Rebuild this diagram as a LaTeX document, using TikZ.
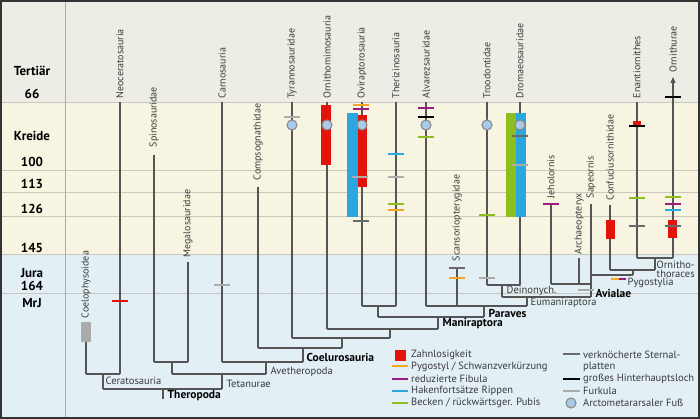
\documentclass[tikz,border=0pt]{standalone}
\usepackage{fontspec}
\setmainfont{PT Sans}
\usetikzlibrary{arrows.meta}
\definecolor{cTer}{HTML}{EDEDE6}
\definecolor{cKre}{HTML}{F7F5E2}
\definecolor{cJur}{HTML}{E2F0F5}
\definecolor{cGrid}{HTML}{C9C7C0}
\definecolor{cTree}{HTML}{555555}
\definecolor{cTxt}{HTML}{3A3A3A}
\definecolor{cRed}{HTML}{E3120B}
\definecolor{cOra}{HTML}{F6A623}
\definecolor{cPur}{HTML}{9B1C7E}
\definecolor{cBlu}{HTML}{2AA7E0}
\definecolor{cGre}{HTML}{8CBE1F}
\definecolor{cDgr}{HTML}{6A6A6A}
\definecolor{cLgr}{HTML}{ABABAB}
\definecolor{cCir}{HTML}{A9CBE8}
\definecolor{cCirL}{HTML}{8A8A8A}
\definecolor{cFrame}{HTML}{333333}
\begin{document}
\begin{tikzpicture}[x=1pt,y=-1pt,
  tree/.style={draw=cTree,line width=1.1pt},
  taxon/.style={rotate=90,anchor=west,inner sep=1.5pt,text=cTxt,font=\fontsize{10}{11}\selectfont},
  clade/.style={anchor=west,inner sep=0.5pt,text=cTxt,font=\fontsize{10.5}{11}\selectfont},
  cladeb/.style={anchor=west,inner sep=0.5pt,text=black,font=\bfseries\fontsize{11.5}{13}\selectfont},
  timel/.style={inner sep=0pt,text=black,font=\bfseries\fontsize{13}{14}\selectfont},
  mk/.style={line width=2.6pt},
  arcto/.style={circle,fill=cCir,draw=cCirL,line width=1.1pt,minimum size=10pt,inner sep=0pt},
  legt/.style={anchor=west,inner sep=0pt,text=cTxt,font=\fontsize{10.5}{12}\selectfont}]
\newcommand\tk[3]{\draw[mk,#1] (#2-8,#3) -- (#2+8,#3);}
\newcommand\bracket[3]{\draw[tree] (#1) -- (#2); \draw[tree] (#1 -| #3) -- (#3);}
\useasboundingbox (0,0) rectangle (700,419);
% backgrounds
\fill[cTer] (0,0) rectangle (700,102);
\fill[cKre] (0,102) rectangle (700,254);
\fill[cJur] (0,254) rectangle (700,419);
\foreach \yy in {102,170,192,216,254,293} \draw[cGrid,line width=0.9pt] (0,\yy) -- (700,\yy);
\draw[cLgr,line width=0.9pt] (65,0) -- (65,419);
% time labels
\node[timel] (tTer) at (32,71) {Tertiär};
\node[timel] (t66) at (32,94) {66};
\node[timel] (tKre) at (32,136) {Kreide};
\node[timel] (t100) at (32,162) {100};
\node[timel] (t113) at (32,184) {113};
\node[timel] (t126) at (32,209) {126};
\node[timel] (t145) at (32,248) {145};
\node[timel] (tJur) at (32,273) {Jura};
\node[timel] (t164) at (32,286) {164};
\node[timel] (tMrJ) at (32,303) {MrJ};
% taxon coordinates
\coordinate (coeT) at (86,342); \coordinate (coeB) at (86,374);
\coordinate (neoT) at (120,102); \coordinate (neoB) at (120,374);
\coordinate (spiT) at (154,155); \coordinate (spiB) at (154,362);
\coordinate (megT) at (188,262); \coordinate (megB) at (188,362);
\coordinate (carT) at (222,102); \coordinate (carB) at (222,362);
\coordinate (comT) at (258,187); \coordinate (comB) at (258,348);
\coordinate (tyrT) at (292,102); \coordinate (tyrB) at (292,338);
\coordinate (ornT) at (327,102); \coordinate (ornB) at (327,329);
\coordinate (oviT) at (362,102); \coordinate (oviB) at (362,306);
\coordinate (theT) at (396,102); \coordinate (theB) at (396,306);
\coordinate (alvT) at (426,102); \coordinate (alvB) at (426,306);
\coordinate (scaT) at (457,268); \coordinate (scaB) at (457,306);
\coordinate (troT) at (487,102); \coordinate (troB) at (487,285);
\coordinate (droT) at (520,102); \coordinate (droB) at (520,285);
\coordinate (jehT) at (551,204); \coordinate (jehB) at (551,284);
\coordinate (arcT) at (579,258); \coordinate (arcB) at (579,284);
\coordinate (sapT) at (591,204); \coordinate (sapB) at (591,275);
\coordinate (conT) at (610,205); \coordinate (conB) at (610,270);
\coordinate (enaT) at (637,102); \coordinate (enaB) at (637,258);
\coordinate (ontT) at (673,77);  \coordinate (ontB) at (673,258);
% internal nodes
\coordinate (ncer) at (103,389); \coordinate (nmeg) at (172,374);
\coordinate (nthe) at (163,399); \coordinate (ntet) at (222,389);
\coordinate (nave) at (266,374); \coordinate (ncoel) at (303,362);
\coordinate (n2) at (342,348); \coordinate (n1) at (390,338);
\coordinate (nman) at (438,329); \coordinate (novt) at (378,317);
\coordinate (npar) at (484,317); \coordinate (neum) at (527,306);
\coordinate (ndei) at (502,297); \coordinate (navi) at (591,297);
\coordinate (nsj) at (591,284); \coordinate (ncf) at (633,275);
\coordinate (nort) at (655,270);
% taxon lines
\foreach \t in {coe,neo,spi,meg,car,com,tyr,orn,ovi,the,alv,sca,tro,dro,jeh,arc,con,ena}
  \draw[tree] (\t T) -- (\t B);
\draw[tree] (sapT) -- (navi);
\draw[tree,-{Triangle[length=6pt,width=5pt]}] (ontB) -- (ontT);
% brackets
\bracket{coeB}{neoB}{ncer}
\bracket{spiB}{megB}{nmeg}
\bracket{ncer}{ntet}{nthe}
\bracket{nmeg}{nave}{ntet}
\bracket{carB}{ncoel}{nave}
\bracket{comB}{n2}{ncoel}
\bracket{tyrB}{n1}{n2}
\bracket{ornB}{nman}{n1}
\bracket{novt}{npar}{nman}
\bracket{oviB}{theB}{novt}
\bracket{alvB}{neum}{npar}
\bracket{ndei}{navi}{neum}
\bracket{troB}{droB}{ndei}
\draw[tree] (jehB) -- (nsj);
\draw[tree] (sapB) -- (ncf);
\bracket{conB}{nort}{ncf}
\bracket{enaB}{ontB}{nort}
% taxon labels
\node[taxon] (lcoe) at (86,320) {Coelophysoidea};
\node[taxon] (lneo) at (120,100) {Neoceratosauria};
\node[taxon] (lspi) at (154,149) {Spinosauridae};
\node[taxon] (lmeg) at (188,259) {Megalosauridae};
\node[taxon] (lcar) at (222,100) {Carnosauria};
\node[taxon] (lcom) at (258,182) {Compsognathidae};
\node[taxon] (ltyr) at (292,100) {Tyrannosauridae};
\node[taxon] (lorn) at (327,100) {Ornithomimosauria};
\node[taxon] (lovi) at (362,100) {Oviraptorosauria};
\node[taxon] (lthe) at (396,100) {Therizinosauria};
\node[taxon] (lalv) at (426,100) {Alvarezsauridae};
\node[taxon] (lsca) at (457,263) {Scansoriopterygidae};
\node[taxon] (ltro) at (487,100) {Troodontidae};
\node[taxon] (ldro) at (520,100) {Dromaeosauridae};
\node[taxon] (ljeh) at (551,200) {Jeholornis};
\node[taxon] (larc) at (579,256) {Archaeopteryx};
\node[taxon] (lsap) at (591,200) {Sapeornis};
\node[taxon] (lcon) at (610,202) {Confuciusornithidae};
\node[taxon] (lena) at (637,100) {Enantiornithes};
\node[taxon] (lont) at (673,74) {Ornithurae};
% clade labels
\node[clade] (cCer) at (105,381) {Ceratosauria};
\node[cladeb] (cThe) at (167,396) {Theropoda};
\node[clade] (cTet) at (226,384) {Tetanurae};
\node[clade] (cAve) at (270,372) {Avetheropoda};
\node[cladeb] (cCoe) at (306,357) {Coelurosauria};
\node[cladeb] (cMan) at (442,324) {Maniraptora};
\node[cladeb] (cPar) at (488,313) {Paraves};
\node[clade] (cEum) at (530,303) {Eumaniraptora};
\node[clade] (cDei) at (506,291) {Deinonych.};
\node[cladeb] (cAvi) at (595,293) {Avialae};
\node[clade] (cPyg) at (627,283) {Pygostylia};
\node[clade,align=left,font=\fontsize{10.5}{9}\selectfont] (cOrt) at (656,269) {Ornitho-\\thoraces};
% character bars
\fill[cRed] (321,105) rectangle (331,165);
\fill[cBlu] (347,113) rectangle (358,217);
\fill[cRed] (358,115) rectangle (367,187);
\fill[cGre] (506,113) rectangle (516,217);
\fill[cBlu] (516,113) rectangle (526,217);
\fill[cRed] (606,220) rectangle (615,239);
\fill[cRed] (668,220) rectangle (677,238);
\fill[cRed] (633,121) rectangle (641,126);
\fill[cLgr] (81,322) rectangle (91,342);
% ticks
\tk{cRed}{120}{301}
\tk{cLgr}{222}{285}
\tk{cLgr}{292}{117}
\tk{cOra}{361}{105}
\tk{cPur}{361}{109}
\tk{cLgr}{360}{177}
\tk{cDgr}{361}{221}
\tk{cBlu}{396}{154}
\tk{cLgr}{396}{177}
\tk{cGre}{396}{204}
\tk{cOra}{396}{210}
\tk{cPur}{426}{108}
\tk{black}{426}{117}
\tk{cGre}{426}{137}
\tk{cDgr}{457}{268}
\tk{cOra}{457}{278}
\tk{cGre}{487}{215}
\tk{cLgr}{487}{278}
\tk{cDgr}{520}{136}
\tk{cLgr}{520}{165}
\tk{cPur}{551}{204}
\tk{cLgr}{586}{290}
\draw[mk,cOra] (611,279) -- (619,279);
\draw[mk,cPur] (619,279) -- (626,279);
\tk{black}{637}{126}
\tk{cGre}{637}{198}
\tk{cDgr}{637}{226}
\tk{black}{673}{97}
\tk{cGre}{673}{197}
\tk{cPur}{673}{204}
\tk{cBlu}{673}{210}
\tk{cDgr}{673}{226}
% arctometatarsal circles
\node[arcto] (c1) at (292,125) {};
\node[arcto] (c2) at (327,125) {};
\node[arcto] (c3) at (362,125) {};
\node[arcto] (c4) at (426,125) {};
\node[arcto] (c5) at (487,125) {};
\node[arcto] (c6) at (520,125) {};
% legend
\fill[cRed] (395,350) rectangle (406,361);
\draw[mk,cOra] (392,366) -- (408,366);
\draw[mk,cPur] (392,379) -- (408,379);
\draw[mk,cBlu] (392,391) -- (408,391);
\draw[mk,cGre] (392,403) -- (408,403);
\node[legt] (g1) at (411,355) {Zahnlosigkeit};
\node[legt] (g2) at (411,367) {Pygostyl / Schwanzverkürzung};
\node[legt] (g3) at (411,379) {reduzierte Fibula};
\node[legt] (g4) at (411,391) {Hakenfortsätze Rippen};
\node[legt] (g5) at (411,403) {Becken / rückwärtsger. Pubis};
\draw[mk,cDgr] (563,354) -- (580,354);
\draw[mk,black] (563,379) -- (580,379);
\draw[mk,cLgr] (563,391) -- (580,391);
\node[arcto] (gc) at (571,403) {};
\node[legt] (g6) at (583,355) {verknöcherte Sternal-};
\node[legt] (g7) at (583,367) {platten};
\node[legt] (g8) at (583,379) {großes Hinterhauptsloch};
\node[legt] (g9) at (583,391) {Furkula};
\node[legt] (g10) at (583,403) {Arctometararsaler Fuß};
% frame
\draw[cFrame,line width=2pt] (1,1) rectangle (699,418);
\end{tikzpicture}
\end{document}
